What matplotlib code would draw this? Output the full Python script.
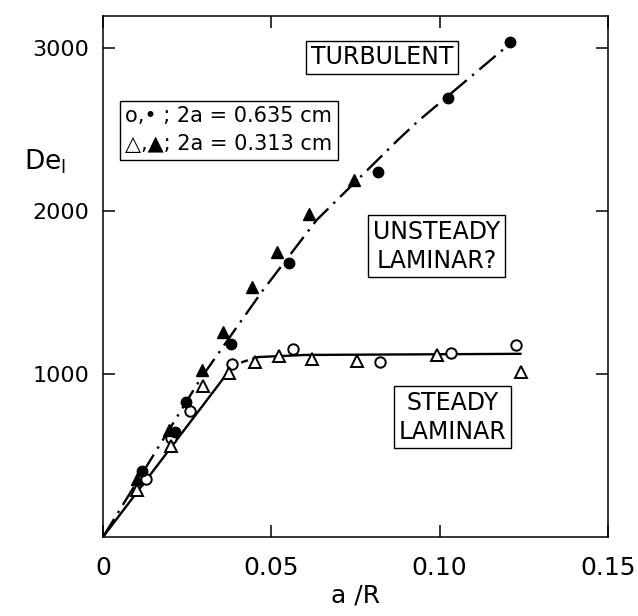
import matplotlib
matplotlib.use('Agg')
import matplotlib.pyplot as plt

# open circles: 2a = 0.635 cm, steady laminar branch
oc_x = [0.0128, 0.0202, 0.0259, 0.0384, 0.0565, 0.0824, 0.1033, 0.1226]
oc_y = [356, 607, 773, 1061, 1153, 1074, 1129, 1178]
# filled circles: 2a = 0.635 cm, turbulent branch
fc_x = [0.0116, 0.0214, 0.0247, 0.0381, 0.0554, 0.0818, 0.1024, 0.1210]
fc_y = [405, 644, 828, 1184, 1684, 2239, 2693, 3037]
# open triangles: 2a = 0.313 cm
ot_x = [0.0101, 0.0202, 0.0298, 0.0375, 0.0452, 0.0524, 0.0622, 0.0756, 0.0991, 0.1241]
ot_y = [288, 558, 926, 1006, 1074, 1110, 1092, 1080, 1117, 1012]
# filled triangles: 2a = 0.313 cm
ft_x = [0.0101, 0.0197, 0.0295, 0.0357, 0.0443, 0.0518, 0.0613, 0.0747]
ft_y = [356, 660, 1025, 1258, 1534, 1748, 1982, 2190]

# hand drawn curves
turb_x = [0, 0.0289, 0.0393, 0.0473, 0.0634, 0.0878, 0.0935, 0.1217]
turb_y = [0, 969, 1276, 1509, 1945, 2442, 2552, 3043]
lam_x = [0, 0.0380]
lam_y = [0, 1035]
knee_x = [0.0380, 0.0415, 0.0460]
knee_y = [1035, 1075, 1105]
plat_x = [0.0460, 0.0600, 0.1240]
plat_y = [1105, 1118, 1125]

fig = plt.figure(figsize=(6.38, 6.16), dpi=100)
ax = fig.add_axes([0.1614, 0.1282, 0.7915, 0.846])

ax.plot(turb_x, turb_y, color='black', lw=1.7, linestyle=(0, (9, 3, 1, 3)))
ax.plot(lam_x, lam_y, color='black', lw=1.7)
ax.plot(knee_x, knee_y, color='black', lw=1.7, linestyle=(0, (3, 2)))
ax.plot(plat_x, plat_y, color='black', lw=1.7)

ax.plot(oc_x, oc_y, 'o', ms=7.5, mfc='white', mec='black', mew=1.4)
ax.plot(fc_x, fc_y, 'o', ms=7.5, mfc='black', mec='black')
ax.plot(ot_x, ot_y, '^', ms=8.5, mfc='white', mec='black', mew=1.4)
ax.plot(ft_x, ft_y, '^', ms=8.5, mfc='black', mec='black')

ax.set_xlim(0, 0.15)
ax.set_ylim(0, 3200)
ax.set_xticks([0, 0.05, 0.10, 0.15])
ax.set_xticklabels(['0', '0.05', '0.10', '0.15'])
ax.set_yticks([1000, 2000, 3000])
ax.tick_params(direction='in', length=8.5, width=1.1, top=True, right=True)
ax.tick_params(axis='x', labelsize=18, pad=14)
ax.tick_params(axis='y', labelsize=16, pad=10)
for s in ax.spines.values():
    s.set_linewidth(1.1)

ax.set_xlabel('a /R', fontsize=18, labelpad=2)
ax.text(-0.115, 0.72, r'$\mathregular{De_{l}}$', transform=ax.transAxes,
        fontsize=19, ha='center', va='center')

box = dict(boxstyle='square,pad=0.2', fc='white', ec='black', lw=1.0)
ax.text(0.083, 2945, 'TURBULENT', fontsize=17, ha='center', va='center', bbox=box)
ax.text(0.0991, 1785, 'UNSTEADY\nLAMINAR?', fontsize=17, ha='center', va='center',
        bbox=box, linespacing=1.25)
ax.text(0.1039, 736, 'STEADY\nLAMINAR', fontsize=17, ha='center', va='center',
        bbox=box, linespacing=1.25)
ax.text(0.0066, 2497, 'o,• ; 2a = 0.635 cm\n△,▲; 2a = 0.313 cm', fontsize=15,
        ha='left', va='center', bbox=dict(boxstyle='square,pad=0.25', fc='white',
                                          ec='black', lw=1.0), linespacing=1.5)

fig.savefig('out.png', dpi=100)
